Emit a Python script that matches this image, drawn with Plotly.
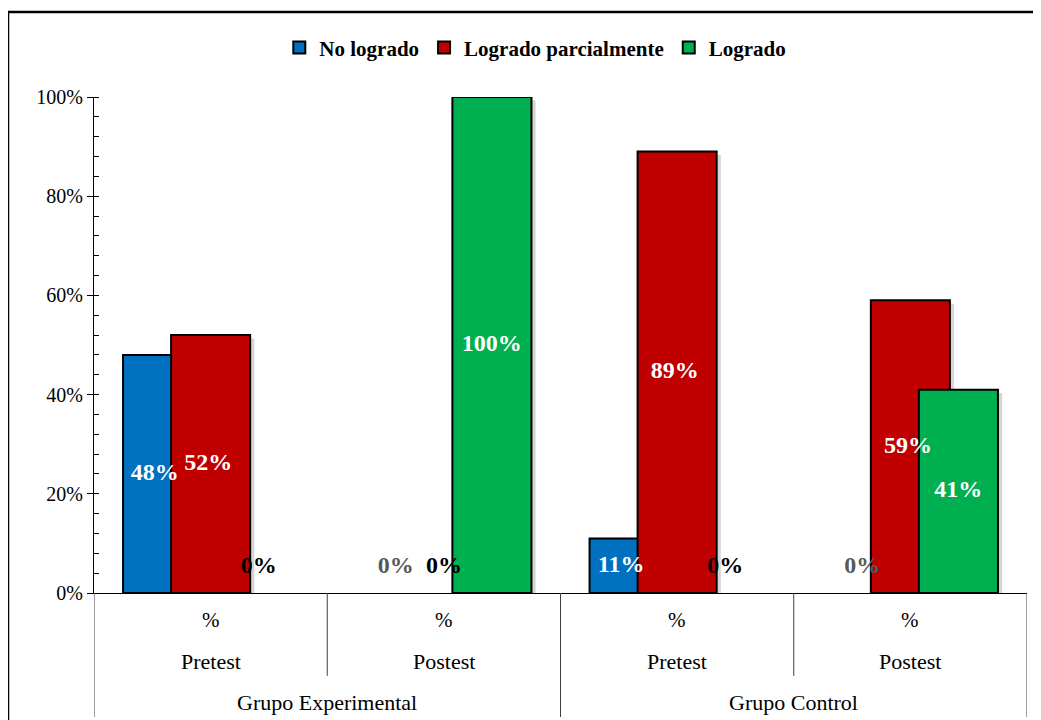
import plotly.graph_objects as go

# ---- data ----
grupos = ["Grupo Experimental", "Grupo Experimental", "Grupo Control", "Grupo Control"]
momentos = ["Pretest", "Postest", "Pretest", "Postest"]
unidad = ["%", "%", "%", "%"]
series_names = ["No logrado", "Logrado parcialmente", "Logrado"]
no_logrado = [48, 0, 11, 0]
logrado_parcial = [52, 0, 89, 59]
logrado = [0, 100, 0, 41]
y_ticks = [0, 20, 40, 60, 80, 100]
y_tick_text = ["0%", "20%", "40%", "60%", "80%", "100%"]

series_vals = [no_logrado, logrado_parcial, logrado]
colors = ["#0070C0", "#C00000", "#00B050"]
zero_label_colors = ["#595959", "#000000", "#000000"]
offsets = [-0.206, 0.0, 0.206]
label_shift = [-0.24, -0.01, 0.205]
bar_w = 0.339
xs = list(range(len(momentos)))
serif = "Liberation Serif"

fig = go.Figure()

for i, (name, vals) in enumerate(zip(series_names, series_vals)):
    drawn = [v if v > 0 else None for v in vals]
    # shadow
    fig.add_trace(go.Bar(
        x=xs, y=[v + 1.0 - 0.7 if v is not None else None for v in drawn], base=-1.0,
        width=bar_w, offset=offsets[i] - bar_w / 2 + 0.018,
        marker=dict(color="rgba(0,0,0,0.16)", line=dict(width=0)),
        showlegend=False, hoverinfo="skip"))
    fig.add_trace(go.Bar(
        x=xs, y=drawn, name=name, width=bar_w,
        offset=offsets[i] - bar_w / 2,
        marker=dict(color=colors[i], line=dict(color="#000000", width=2)),
    ))

# data labels
for i, vals in enumerate(series_vals):
    lx, ly, lt, lc = [], [], [], []
    for j, v in enumerate(vals):
        if v > 0:
            lx.append(xs[j] + label_shift[i])
            ly.append(v / 2)
            lc.append("#FFFFFF")
        else:
            lx.append(xs[j] + offsets[i])
            ly.append(5.2)
            lc.append(zero_label_colors[i])
        lt.append(f"{v}%")
    fig.add_trace(go.Scatter(
        x=lx, y=ly, text=lt, mode="text", showlegend=False, hoverinfo="skip",
        textfont=dict(family=serif, size=24, color=lc, weight="bold")))

# category labels
annotations = []
for j in xs:
    annotations.append(dict(x=j, y=-0.054, xref="x", yref="paper", text=unidad[j],
                            yanchor="middle", showarrow=False,
                            font=dict(family=serif, size=21, color="#000")))
    annotations.append(dict(x=j, y=-0.139, xref="x", yref="paper", text=momentos[j],
                            yanchor="middle", showarrow=False,
                            font=dict(family=serif, size=22, color="#000")))
seen = []
for g in grupos:
    if g not in seen:
        seen.append(g)
for g in seen:
    idx = [j for j in xs if grupos[j] == g]
    annotations.append(dict(x=sum(idx) / len(idx), y=-0.22, xref="x", yref="paper", text=g,
                            yanchor="middle", showarrow=False,
                            font=dict(family=serif, size=22, color="#000")))

shapes = []
for b in [-0.5, 0.5, 1.5, 2.5, 3.5]:
    long_line = b in (-0.5, 1.5, 3.5)
    shapes.append(dict(type="line", xref="x", yref="paper", x0=b, x1=b, y0=0,
                       y1=-0.25 if long_line else -0.167,
                       line=dict(color="#404040", width=1)))
# outer border
shapes.append(dict(type="rect", xref="paper", yref="paper", x0=-0.0922, x1=1.1, y0=-0.4, y1=1.1714,
                   line=dict(color="#000000", width=2.5), layer="above"))

fig.update_layout(
    width=1041, height=720,
    margin=dict(l=86, r=22, t=89, b=135),
    paper_bgcolor="white", plot_bgcolor="white",
    barmode="overlay",
    showlegend=True,
    legend=dict(orientation="h", x=0.473, y=1.099, xanchor="center", yanchor="middle",
                font=dict(family=serif, size=21, color="#000", weight="bold"),
                itemwidth=30, tracegroupgap=0, traceorder="normal"),
    xaxis=dict(range=[-0.5, 3.5], showticklabels=False, ticks="", showgrid=False,
               zeroline=False, showline=True, linecolor="#000", linewidth=1, fixedrange=True),
    yaxis=dict(range=[0, 100], tickmode="array", tickvals=y_ticks, ticktext=y_tick_text,
               showgrid=False, zeroline=False,
               showline=True, linecolor="#000", linewidth=1, ticks="outside", ticklen=6,
               tickcolor="#000", tickfont=dict(family=serif, size=20, color="#000"),
               minor=dict(dtick=4, ticks="inside", ticklen=5, tickcolor="#000", showgrid=False)),
    yaxis2=dict(range=[0, 100], overlaying="y", tickmode="array", tickvals=y_ticks,
                showticklabels=False, ticks="inside", ticklen=5, tickcolor="#000",
                showgrid=False, zeroline=False, showline=False, side="left"),
    annotations=annotations,
    shapes=shapes,
)
fig.add_trace(go.Scatter(x=[None], y=[None], yaxis="y2", showlegend=False, hoverinfo="skip"))

fig.write_html("out.html")
